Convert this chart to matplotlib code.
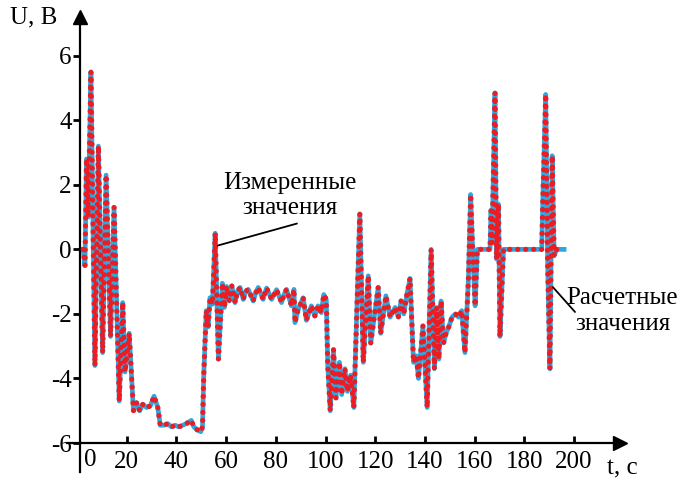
import matplotlib
matplotlib.use("Agg")
import matplotlib.pyplot as plt

# time, s
t = [2.5, 3.2, 3.8, 4.5, 5.6, 7.2, 8.6, 10.3, 11.7, 13.5, 14.9, 17.0, 18.4, 19.3, 21.0, 22.7,
     24.0, 25.2, 26.5, 28.0, 29.5, 31.0, 32.5, 33.5, 35.0, 36.5, 38.0, 39.5, 41.0, 42.5, 44.0, 46.0, 47.0, 48.5, 49.8,
     50.5, 51.0, 52.0, 52.8, 53.5, 54.5, 55.6, 56.9, 58.5, 59.3, 60.2,
     61.3, 62.3, 63.6, 64.6, 65.6, 66.9, 67.9, 68.9, 70.9, 71.9, 72.9, 74.9, 75.6, 76.3, 78.3, 79.3, 80.3, 82.3, 83.3, 84.3, 86.3, 87.3,
     87.7, 89.0, 91.0, 92.3, 94.3, 95.7, 97.0, 98.3, 99.3, 100.3, 100.9, 101.9,
     103.2, 104.2, 105.6, 106.5, 107.8, 108.8, 110.1, 111.4, 113.8,
     115.2, 117.2, 118.2, 121.2, 122.2, 124.3, 126.0, 128.0, 129.3, 130.4, 131.5, 132.5, 134.0,
     135.4, 136.5, 137.4, 139.2, 140.9, 142.5, 143.8, 144.7, 145.6, 146.5, 147.5, 148.5, 149.6, 150.9, 152.3, 153.5,
     154.8, 156.1, 157.5, 158.4, 159.2, 160.2, 161.1,
     166.2, 166.6, 167.0, 168.2, 168.8, 169.6, 170.2, 171.6,
     187.0, 187.4, 188.6, 189.4, 190.3, 191.2, 192.0, 193.0, 196.0]

# measured voltage, V
u_meas = [0.0, -0.5, 2.8, 1.0, 5.5, -3.6, 3.2, -3.2, 2.3, -2.7, 1.3, -4.7, -1.65, -3.8, -2.6, -5.0,
          -4.75, -5.0, -4.8, -4.9, -4.85, -4.55, -4.9, -5.45, -5.45, -5.4, -5.5, -5.45, -5.5, -5.45, -5.4, -5.3, -5.5, -5.6, -5.65,
          -5.5, -3.9, -1.9, -2.4, -1.5, -1.7, 0.5, -3.4, -1.05, -1.8, -1.15,
          -1.6, -1.13, -1.65, -1.3, -1.18, -1.55, -1.3, -1.24, -1.6, -1.35, -1.18, -1.55, -1.35, -1.2, -1.55, -1.4, -1.25, -1.65, -1.4, -1.24, -1.75, -1.24,
          -2.27, -1.86, -1.5, -2.2, -1.75, -2.06, -1.75, -1.96, -1.4, -1.55, -3.6, -5.0,
          -3.1, -4.6, -3.5, -4.5, -3.7, -4.4, -3.9, -4.9, 1.1,
          -3.5, -0.82, -2.9, -1.18, -2.6, -1.44, -2.1, -1.8, -2.1, -1.6, -2.0, -1.5, -0.9,
          -3.5, -3.3, -4.0, -2.37, -4.9, 0.0, -3.7, -1.8, -3.4, -1.6, -2.9, -2.6, -2.4, -2.1, -2.0, -2.1,
          -1.9, -3.2, -0.93, 1.7, 0.0, -1.75, 0.0,
          0.0, 1.2, 0.2, 4.85, -0.3, 1.4, -2.7, 0.0,
          0.0, 1.4, 4.8, -0.5, -3.7, 2.9, -0.2, 0.0, 0.0]

# calculated voltage, V (coincides with the measurement on the plot)
u_calc = list(u_meas)

xticks = [20, 40, 60, 80, 100, 120, 140, 160, 180, 200]
yticks = [-6, -4, -2, 0, 2, 4, 6]

plt.rcParams['font.family'] = ['Liberation Serif', 'DejaVu Serif']
fs = 18

fig = plt.figure(figsize=(6.83, 4.79), dpi=100)
ax = fig.add_axes([80/683, 36/479, 540/683, 426/479])

ax.plot(t, u_calc, color='#29a9e0', lw=3.4, solid_joinstyle='round', zorder=2)
ax.plot(t, u_meas, color='#ec1c24', lw=3.8, linestyle=(0, (0.01, 1.5)),
        dash_capstyle='round', zorder=3)

ax.set_xlim(1.2, 218.5)
ax.set_ylim(-6, 7.2)

for s in ax.spines.values():
    s.set_visible(False)

# axes with arrows, crossing a bit beyond the origin
ax.plot([-0.024, 1], [0, 0], color='black', lw=1.6, transform=ax.transAxes, clip_on=False)
ax.plot([0, 0], [-0.068, 1], color='black', lw=1.6, transform=ax.transAxes, clip_on=False)
ax.plot(1, 0, '>k', ms=10, transform=ax.transAxes, clip_on=False)
ax.plot(0, 1, '^k', ms=10, transform=ax.transAxes, clip_on=False)

ax.set_xticks(xticks)
ax.set_yticks(yticks)
ax.set_yticklabels([str(v) for v in yticks])
ax.tick_params(axis='x', direction='in', length=5, width=2, labelsize=fs, pad=6)
ax.tick_params(axis='y', direction='out', length=5, width=2, labelsize=fs, pad=1)
ax.text(5.2, -6.2, '0', fontsize=fs, ha='center', va='top')

ax.text(-0.13, 1.0, 'U, B', fontsize=fs, transform=ax.transAxes, ha='left', va='center')
ax.text(0.976, -0.06, 't, c', fontsize=fs, transform=ax.transAxes, ha='left', va='center')

ax.text(85.7, 1.67, 'Измеренные\nзначения', fontsize=fs, ha='center', va='center', linespacing=1.2)
ax.annotate('', xy=(56.7, 0.12), xytext=(88.5, 0.8),
            arrowprops=dict(arrowstyle='-', lw=1.3, color='black', shrinkA=0, shrinkB=0))

ax.text(219.5, -1.91, 'Расчетные\nзначения', fontsize=fs, ha='center', va='center', linespacing=1.2)
ax.annotate('', xy=(191.5, -1.17), xytext=(200.4, -1.94),
            arrowprops=dict(arrowstyle='-', lw=1.3, color='black', shrinkA=0, shrinkB=0))

fig.savefig('out.png', dpi=100)
